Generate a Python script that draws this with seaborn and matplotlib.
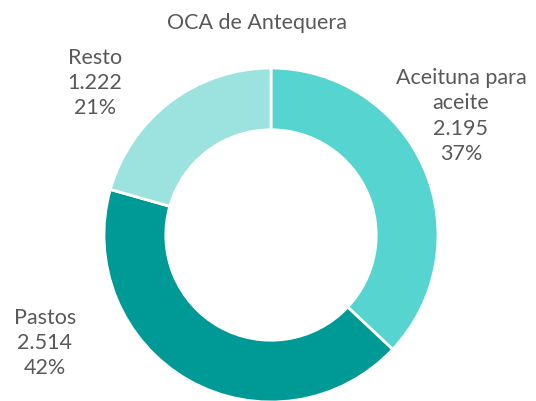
import matplotlib
matplotlib.use("Agg")
import matplotlib.pyplot as plt
import seaborn as sns

# Datos del gráfico
categorias = ["Aceituna para\naceite", "Pastos", "Resto"]
superficie = [2195, 2514, 1222]
colores = ["#56d4cf", "#009a96", "#9ce2df"]
titulo = "OCA de Antequera"

sns.set_theme(style="white")
plt.rcParams["font.family"] = ["Lato", "DejaVu Sans"]

TEXT_COLOR = "#595959"

fig = plt.figure(figsize=(5.36, 4.01), dpi=100)
ax = fig.add_axes([0, 0, 1, 1])

ax.pie(superficie, colors=colores, startangle=90, counterclock=False,
       radius=1, wedgeprops=dict(width=0.37, edgecolor="white", linewidth=2))

# centro del anillo en píxeles y radio exterior (después de pie, que fija sus límites)
cx, cy, r = 271, 235, 167
ax.set_xlim(-cx / r, (536 - cx) / r)
ax.set_ylim(-(401 - cy) / r, cy / r)
ax.set_aspect("auto")
ax.axis("off")

total = sum(superficie)

def etiqueta(i):
    pct = round(100 * superficie[i] / total)
    valor = f"{superficie[i]:,}".replace(",", ".")
    return f"{categorias[i]}\n{valor}\n{pct}%"

# posiciones de etiquetas (píxeles)
pos = [(461, 116), (45, 343), (95, 83)]
for i, (px, py) in enumerate(pos):
    ax.text((px - cx) / r, (cy - py) / r, etiqueta(i), ha="center", va="center",
            fontsize=15.5, color=TEXT_COLOR, linespacing=1.33)

ax.text((257 - cx) / r, (cy - 23) / r, titulo, ha="center", va="center",
        fontsize=15.5, color=TEXT_COLOR)

fig.savefig("out.png", dpi=100)
